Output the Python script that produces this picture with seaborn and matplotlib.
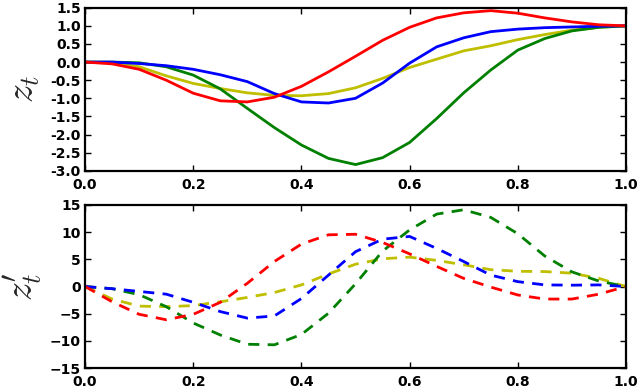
import numpy as np
import pandas as pd
import matplotlib
matplotlib.use("Agg")
import matplotlib.pyplot as plt
import seaborn as sns

# sample times
t = [0.0, 0.05, 0.1, 0.15, 0.2, 0.25, 0.3, 0.35, 0.4, 0.45, 0.5,
     0.55, 0.6, 0.65, 0.7, 0.75, 0.8, 0.85, 0.9, 0.95, 1.0]

# z_t (top panel)
z_red = [0, -0.05, -0.2, -0.5, -0.86, -1.07, -1.1, -0.97, -0.67, -0.27, 0.16,
         0.6, 0.96, 1.22, 1.36, 1.42, 1.35, 1.22, 1.11, 1.03, 1.0]
z_blue = [0, 0, -0.04, -0.1, -0.2, -0.35, -0.54, -0.87, -1.1, -1.13, -1.0,
          -0.58, -0.03, 0.42, 0.67, 0.84, 0.91, 0.95, 0.97, 0.99, 1.0]
z_yellow = [0, -0.02, -0.13, -0.38, -0.59, -0.73, -0.85, -0.92, -0.93, -0.87, -0.71,
            -0.45, -0.15, 0.08, 0.31, 0.45, 0.62, 0.76, 0.88, 0.96, 1.0]
z_green = [0, 0, -0.02, -0.13, -0.36, -0.74, -1.28, -1.81, -2.29, -2.66, -2.83,
           -2.64, -2.22, -1.56, -0.85, -0.22, 0.33, 0.65, 0.86, 0.96, 1.0]

# z'_t (bottom panel)
dz_red = [0, -2.8, -5.1, -6.1, -5.1, -2.9, 0.6, 4.6, 7.8, 9.5, 9.6,
          8.1, 6.0, 3.7, 1.5, -0.1, -1.55, -2.3, -2.3, -1.4, 0]
dz_blue = [0, -0.4, -0.9, -1.4, -2.9, -4.6, -5.8, -5.4, -2.2, 2.1, 6.4,
           8.7, 9.2, 7.0, 4.6, 2.1, 0.9, 0.3, 0.25, 0.3, 0]
dz_yellow = [0, -2.3, -3.6, -3.7, -3.5, -2.8, -2.0, -1.1, 0.3, 2.3, 4.1,
             5.1, 5.4, 4.8, 4.0, 3.1, 2.8, 2.75, 2.45, 1.5, 0]
dz_green = [0, -0.4, -1.5, -3.7, -6.7, -8.9, -10.6, -10.7, -8.8, -4.9, 0.5,
            6.5, 10.4, 13.3, 14.1, 12.7, 9.7, 5.6, 2.7, 1.0, 0]

colors = {"red": "#ff0000", "blue": "#0000ff", "yellow": "#bfbf00", "green": "#008000"}

sns.set_style("ticks")
plt.rcParams.update({
    "font.family": ["DejaVu Sans"],
    "font.weight": "bold",
    "mathtext.fontset": "cm",
    "xtick.direction": "in",
    "ytick.direction": "in",
    "xtick.top": True,
    "ytick.right": True,
    "xtick.major.size": 4.5,
    "ytick.major.size": 4.5,
    "xtick.major.width": 1.0,
    "ytick.major.width": 1.0,
    "axes.linewidth": 1.6,
    "axes.edgecolor": "black",
    "xtick.labelsize": 10,
    "ytick.labelsize": 10,
})

fig = plt.figure(figsize=(6.4, 3.88), dpi=100)
ax1 = fig.add_axes([0.133, 0.560, 0.845, 0.420])
ax2 = fig.add_axes([0.133, 0.051, 0.845, 0.421])

top = [("yellow", z_yellow), ("green", z_green), ("blue", z_blue), ("red", z_red)]
for name, vals in top:
    sns.lineplot(x=t, y=vals, color=colors[name], linewidth=2, ax=ax1)

bottom = [("yellow", dz_yellow), ("green", dz_green), ("blue", dz_blue), ("red", dz_red)]
for name, vals in bottom:
    sns.lineplot(x=t, y=vals, color=colors[name], linewidth=2,
                 linestyle=(0, (4, 3)), ax=ax2)

ax1.set_xlim(0, 1)
ax1.set_ylim(-3, 1.5)
ax1.set_yticks(np.arange(-3, 1.51, 0.5))
ax1.set_yticklabels([f"{v:.1f}" for v in np.arange(-3, 1.51, 0.5)])
ax1.set_ylabel(r"$z_t$", fontsize=27, labelpad=6)

ax2.set_xlim(0, 1)
ax2.set_ylim(-15, 15)
ax2.set_yticks(np.arange(-15, 16, 5))
ax2.set_ylabel(r"$z_t'$", fontsize=27, labelpad=4)

for ax in (ax1, ax2):
    ax.set_xticks(np.arange(0, 1.01, 0.2))
    ax.set_xticklabels([f"{v:.1f}" for v in np.arange(0, 1.01, 0.2)])
    ax.tick_params(colors="black")
    ax.tick_params(axis="x", pad=5)
    ax.tick_params(axis="y", pad=3)

fig.savefig("out.png", dpi=100)
